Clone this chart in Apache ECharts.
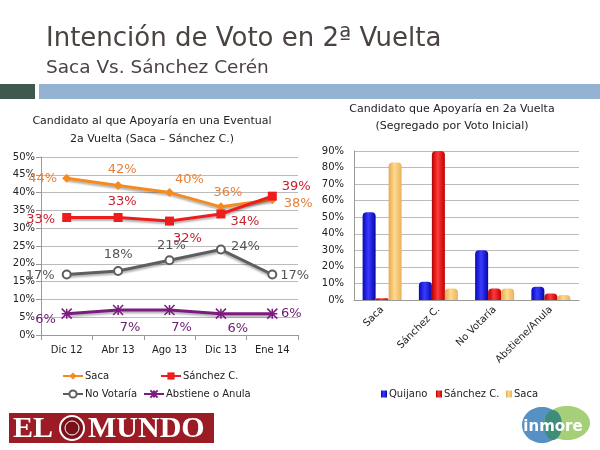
<!DOCTYPE html>
<html>
<head>
<meta charset="utf-8">
<script src="https://cdn.jsdelivr.net/npm/echarts@6/dist/echarts.min.js"></script>
<style>
  html, body { margin: 0; padding: 0; background: #fff; }
  #chart { width: 600px; height: 450px; }
</style>
</head>
<body>
<div id="chart"></div>
<script>
// left chart: time series
const dates = ['Dic 12', 'Abr 13', 'Ago 13', 'Dic 13', 'Ene 14'];
const saca = [44, 42, 40, 36, 38];
const sanchez = [33, 33, 32, 34, 39];
const noVotaria = [17, 18, 21, 24, 17];
const abstiene = [6, 7, 7, 6, 6];
const pctTicks = [0, 5, 10, 15, 20, 25, 30, 35, 40, 45, 50];

// right chart: segregated by first vote
const groups = ['Saca', 'Sánchez C.', 'No Votaría', 'Abstiene/Anula'];
const quijanoBar = [53, 11, 30, 8];
const sanchezBar = [1, 90, 7, 4];
const sacaBar = [83, 7, 7, 3];

const FONT = '"DejaVu Sans", sans-serif';

// label placement per point (style only)
const sacaLbl = [['left', [0, 0]], ['top', [4, 0]], ['top', [20, 3]], ['top', [7, 2]], ['right', [2, 4]]];
const sanchezLbl = [['left', [-2, 2]], ['top', [4, 0]], ['bottom', [18, 2]], ['right', [0, 8]], ['right', [0, -10]]];
const noVotLbl = [['left', [-2, 1]], ['top', [0, 0]], ['top', [2, 2]], ['right', [0, -3]], ['right', [-2, 1]]];
const absLbl = [['left', [0, 6]], ['bottom', [12, 0]], ['bottom', [12, 0]], ['bottom', [17, -2]], ['right', [-2, 0]]];

function withLabels(values, placements) {
  return values.map((v, i) => ({
    value: v,
    label: { position: placements[i][0], offset: placements[i][1] }
  }));
}

function lineSeries(name, values, placements, color, labelColor, symbol, symbolSize, extraItem) {
  return {
    name: name,
    type: 'line',
    xAxisIndex: 0,
    yAxisIndex: 0,
    data: withLabels(values, placements),
    symbol: symbol,
    symbolSize: symbolSize,
    lineStyle: { color: color, width: 3, shadowColor: 'rgba(0,0,0,0.3)', shadowBlur: 2, shadowOffsetY: 2 },
    itemStyle: Object.assign({ color: color }, extraItem || {}),
    label: {
      show: true,
      distance: 5,
      formatter: p => p.value + '%',
      color: labelColor,
      fontFamily: FONT,
      fontSize: 13
    },
    z: 3
  };
}

function cyl(c1, c2, c3) {
  return {
    type: 'linear', x: 0, y: 0, x2: 1, y2: 0,
    colorStops: [{ offset: 0, color: c1 }, { offset: 0.45, color: c2 }, { offset: 1, color: c3 }]
  };
}

function barSeries(name, values, color) {
  return {
    name: name,
    type: 'bar',
    xAxisIndex: 1,
    yAxisIndex: 1,
    data: values,
    barWidth: 13,
    barGap: '0%',
    itemStyle: { color: color, borderRadius: [4, 4, 0, 0] }
  };
}

function legendItem(name, left, top, icon) {
  const l = {
    data: [name],
    left: left,
    top: top,
    itemGap: 0,
    selectedMode: false,
    textStyle: { fontFamily: FONT, fontSize: 10, color: '#222', padding: [0, 0, 0, -3] }
  };
  if (icon) {
    l.icon = icon;
    l.itemWidth = 6;
    l.itemHeight = 7;
  } else {
    l.itemWidth = 20;
    l.itemHeight = 9;
  }
  return l;
}

const chart = echarts.init(document.getElementById('chart'));

const option = {
  backgroundColor: '#fff',
  animation: false,
  graphic: [
    { type: 'text', left: 46, top: 26, style: { text: 'Intención de Voto en 2ª Vuelta', font: '26px ' + FONT, fill: '#4b4341' } },
    { type: 'text', left: 46, top: 59, style: { text: 'Saca Vs. Sánchez Cerén', font: '18.5px ' + FONT, fill: '#4b4341' } },
    { type: 'rect', shape: { x: 0, y: 84, width: 35, height: 15 }, style: { fill: '#3e5a4f' } },
    { type: 'rect', shape: { x: 39, y: 84, width: 561, height: 15 }, style: { fill: '#94b3d2' } },
    { type: 'text', style: { x: 152, y: 121, text: 'Candidato al que Apoyaría en una Eventual', textAlign: 'center', textVerticalAlign: 'middle', font: '11px ' + FONT, fill: '#222' } },
    { type: 'text', style: { x: 152, y: 139, text: '2a Vuelta (Saca – Sánchez C.)', textAlign: 'center', textVerticalAlign: 'middle', font: '11px ' + FONT, fill: '#222' } },
    { type: 'text', style: { x: 452, y: 109, text: 'Candidato que Apoyaría en 2a Vuelta', textAlign: 'center', textVerticalAlign: 'middle', font: '11px ' + FONT, fill: '#222' } },
    { type: 'text', style: { x: 452, y: 126, text: '(Segregado por Voto Inicial)', textAlign: 'center', textVerticalAlign: 'middle', font: '11px ' + FONT, fill: '#222' } },
    // EL MUNDO logo
    { type: 'rect', shape: { x: 9, y: 413, width: 205, height: 30 }, style: { fill: '#9b1c24' } },
    { type: 'text', style: { x: 13, y: 429, text: 'EL', textVerticalAlign: 'middle', font: 'bold 30px "Liberation Serif", serif', fill: '#fff' } },
    { type: 'circle', shape: { cx: 72, cy: 428, r: 12 }, style: { fill: '#7a1018', stroke: '#fff', lineWidth: 2 } },
    { type: 'circle', shape: { cx: 72, cy: 428, r: 7 }, style: { fill: 'none', stroke: '#fff', lineWidth: 1 } },
    { type: 'text', style: { x: 88, y: 429, text: 'MUNDO', textVerticalAlign: 'middle', font: 'bold 30px "Liberation Serif", serif', fill: '#fff' } },
    // inmore logo
    { type: 'ellipse', shape: { cx: 542, cy: 425, rx: 20, ry: 18 }, style: { fill: '#5790c2' } },
    { type: 'ellipse', shape: { cx: 567, cy: 423, rx: 23, ry: 17 }, style: { fill: '#a6cf7a' } },
    { type: 'ellipse', shape: { cx: 553, cy: 425, rx: 9, ry: 15 }, style: { fill: '#3f8d78' } },
    { type: 'text', style: { x: 553, y: 427, text: 'inmore', textAlign: 'center', textVerticalAlign: 'middle', font: 'bold 15px ' + FONT, fill: '#fff' } }
  ],
  grid: [
    { left: 41, right: 302, top: 157, bottom: 115 },
    { left: 354, right: 21, top: 151, bottom: 150 }
  ],
  legend: [
    legendItem('Saca', 57, 366),
    legendItem('Sánchez C.', 155, 366),
    legendItem('No Votaría', 57, 384),
    legendItem('Abstiene o Anula', 138, 384),
    legendItem('Quijano', 376, 384, 'rect'),
    legendItem('Sánchez C. ', 431, 384, 'rect'),
    legendItem('Saca ', 501, 384, 'rect')
  ],
  xAxis: [
    {
      gridIndex: 0,
      type: 'category',
      data: dates,
      axisLine: { lineStyle: { color: '#999' } },
      axisTick: { show: true, lineStyle: { color: '#999' } },
      axisLabel: { fontFamily: FONT, fontSize: 10, color: '#222', margin: 10 }
    },
    {
      gridIndex: 1,
      type: 'category',
      data: groups,
      axisLine: { lineStyle: { color: '#999' } },
      axisTick: { show: false },
      axisLabel: { interval: 0, rotate: 45, fontFamily: FONT, fontSize: 10, color: '#222', margin: 8 }
    }
  ],
  yAxis: [
    {
      gridIndex: 0,
      type: 'value',
      min: pctTicks[0],
      max: pctTicks[pctTicks.length - 1],
      interval: 5,
      axisLine: { show: true, lineStyle: { color: '#999' } },
      axisTick: { show: true, lineStyle: { color: '#999' } },
      splitLine: { lineStyle: { color: '#bbb' } },
      axisLabel: { formatter: '{value}%', fontFamily: FONT, fontSize: 10, color: '#222', margin: 6 }
    },
    {
      gridIndex: 1,
      type: 'value',
      min: 0,
      max: 90,
      interval: 10,
      axisLine: { show: true, lineStyle: { color: '#999' } },
      axisTick: { show: false },
      splitLine: { lineStyle: { color: '#bbb' } },
      axisLabel: { formatter: '{value}%', fontFamily: FONT, fontSize: 10, color: '#222', margin: 10 }
    }
  ],
  series: [
    lineSeries('Saca', saca, sacaLbl, '#f58a1f', '#e5813a', 'diamond', 9),
    lineSeries('Sánchez C.', sanchez, sanchezLbl, '#ee1c1c', '#c8202e', 'rect', 9),
    lineSeries('No Votaría', noVotaria, noVotLbl, '#5e5e5e', '#555', 'emptyCircle', 8, { borderColor: '#5e5e5e', borderWidth: 2 }),
    lineSeries('Abstiene o Anula', abstiene, absLbl, '#7b1c7e', '#6b2070',
      'path://M0,0L10,10M10,0L0,10M5,0L5,10M0,5L10,5', 10, { borderColor: '#7b1c7e', borderWidth: 1.5 }),
    barSeries('Quijano', quijanoBar, cyl('#0808b8', '#3a3aff', '#0606a8')),
    barSeries('Sánchez C. ', sanchezBar, cyl('#b80000', '#ff3a3a', '#c00000')),
    barSeries('Saca ', sacaBar, cyl('#e6a850', '#ffd98e', '#eab25c'))
  ]
};

chart.setOption(option);
</script>
</body>
</html>
